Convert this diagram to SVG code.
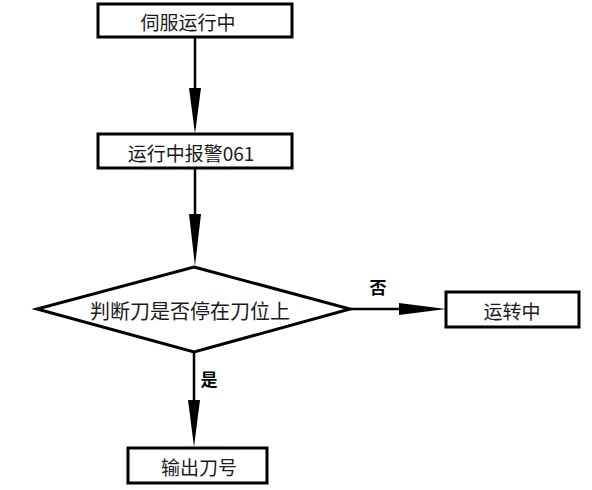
<svg xmlns="http://www.w3.org/2000/svg" width="592" height="490" viewBox="0 0 592 490">
<style>
.box{fill:#fff;stroke:#000;stroke-width:3}
.ln{stroke:#000;stroke-width:2.5;fill:none}
.ah{fill:#000}
text{font-family:"Noto Sans CJK SC","Liberation Sans",sans-serif;font-size:19px;fill:#1a1a1a;text-anchor:middle;dominant-baseline:central}
.big{font-size:20px}
.lbl{font-size:17px;font-weight:bold;fill:#000}
</style>
<rect width="592" height="490" fill="#fff"/>
<g id="connectors">
<line class="ln" x1="195" y1="37" x2="195" y2="100"/>
<polygon class="ah" points="189,88 201,88 195,134"/>
<line class="ln" x1="195" y1="168" x2="195" y2="225"/>
<polygon class="ah" points="189,214 201,214 195,266"/>
<line class="ln" x1="350" y1="309" x2="410" y2="309"/>
<polygon class="ah" points="399,303 399,315 446,309"/>
<text class="lbl" x="378" y="286">否</text>
<line class="ln" x1="194" y1="352" x2="194" y2="410"/>
<polygon class="ah" points="188,400 200,400 194,447"/>
<text class="lbl" x="209" y="378">是</text>
</g>
<g id="n1"><rect class="box" x="98" y="4" width="194" height="33"/><text x="188" y="21">伺服运行中</text></g>
<g id="n2"><rect class="box" x="98" y="134" width="194" height="34"/><text x="191" y="152">运行中报警061</text></g>
<g id="n3"><polygon class="box" points="194,267 350,309 194,352 37,309"/><text class="big" x="190" y="310">判断刀是否停在刀位上</text></g>
<g id="n4"><rect class="box" x="446" y="292" width="133" height="35"/><text x="512" y="310">运转中</text></g>
<g id="n5"><rect class="box" x="128" y="448" width="139" height="35"/><text x="199" y="466">输出刀号</text></g>
</svg>
